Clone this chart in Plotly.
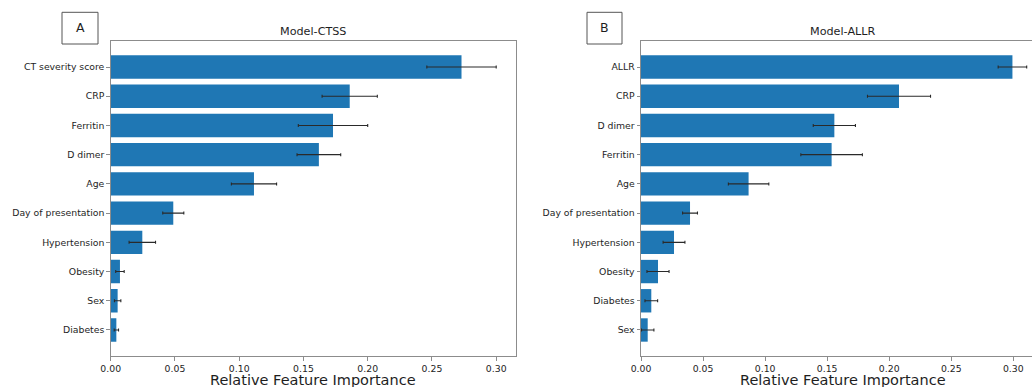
import plotly.graph_objects as go

# Panel A: Model-CTSS
feat_a = ["CT severity score", "CRP", "Ferritin", "D dimer", "Age",
          "Day of presentation", "Hypertension", "Obesity", "Sex", "Diabetes"]
imp_a = [0.273, 0.186, 0.173, 0.162, 0.1115, 0.0487, 0.0246, 0.0072, 0.0054, 0.0044]
err_a = [0.027, 0.0215, 0.027, 0.017, 0.0176, 0.0082, 0.0103, 0.0033, 0.0025, 0.0017]

# Panel B: Model-ALLR
feat_b = ["ALLR", "CRP", "D dimer", "Ferritin", "Age",
          "Day of presentation", "Hypertension", "Obesity", "Diabetes", "Sex"]
imp_b = [0.2993, 0.2079, 0.1558, 0.1536, 0.0867, 0.0395, 0.0266, 0.0137, 0.0083, 0.0054]
err_b = [0.0115, 0.0254, 0.017, 0.0248, 0.0163, 0.006, 0.0088, 0.0089, 0.0051, 0.005]

x_ticks = [0.0, 0.05, 0.10, 0.15, 0.20, 0.25, 0.30]
x_ticktext = ["0.00", "0.05", "0.10", "0.15", "0.20", "0.25", "0.30"]

BAR = "#1f77b4"
TXT = "#1e1e1e"
FRAME = "#8c8c8c"
FONT = "DejaVu Sans"

fig = go.Figure()
fig.add_trace(go.Bar(
    x=imp_a, y=feat_a, orientation="h", marker_color=BAR,
    marker_line_width=0,
    error_x=dict(type="data", array=err_a, color="#2a2a2a", thickness=1.1, width=1.5),
    xaxis="x", yaxis="y", showlegend=False))
fig.add_trace(go.Bar(
    x=imp_b, y=feat_b, orientation="h", marker_color=BAR,
    marker_line_width=0,
    error_x=dict(type="data", array=err_b, color="#2a2a2a", thickness=1.1, width=1.5),
    xaxis="x2", yaxis="y2", showlegend=False))

W, H = 1032, 387
top_px, bot_px = 41, 356
ydom = [(H - bot_px) / H, (H - top_px) / H]

common_x = dict(tickvals=x_ticks, ticktext=x_ticktext, ticks="outside", ticklen=3.5,
                tickwidth=1, tickcolor=FRAME, showline=True, linecolor=FRAME, linewidth=1,
                showgrid=False, zeroline=False, automargin=False,
                tickfont=dict(family=FONT, size=9.3, color=TXT))
common_y = dict(type="category", range=[9.89, -0.89], ticks="outside", ticklen=3.5,
                tickwidth=1, tickcolor=FRAME, showline=True, linecolor=FRAME, linewidth=1,
                showgrid=False, zeroline=False, automargin=False,
                tickfont=dict(family=FONT, size=9.3, color=TXT))

fig.update_layout(
    width=W, height=H, margin=dict(l=0, r=0, t=0, b=0, pad=0, autoexpand=False),
    plot_bgcolor="white", paper_bgcolor="white", bargap=0.2,
    font=dict(family=FONT, color=TXT),
    xaxis=dict(domain=[110.7 / W, 516 / W], range=[0, 0.3154], anchor="y",
               mirror=True, **common_x),
    yaxis=dict(domain=ydom, anchor="x", mirror=True,
               categoryorder="array", categoryarray=feat_a, **common_y),
    xaxis2=dict(domain=[641 / W, 1.0], range=[0, (W - 641) / 1241.0], anchor="y2",
                mirror=True, **common_x),
    yaxis2=dict(domain=ydom, anchor="x2", mirror=False,
                categoryorder="array", categoryarray=feat_b, **common_y),
)

# titles and axis labels
def ann(text, xpx, ypx, size):
    fig.add_annotation(text=text, x=xpx / W, y=(H - ypx) / H, xref="paper", yref="paper",
                       showarrow=False, xanchor="center", yanchor="middle",
                       font=dict(family=FONT, size=size, color=TXT))

ann("Model-CTSS", 313.3, 32, 11.2)
ann("Model-ALLR", 843, 32, 11.2)
ann("Relative Feature Importance", 313, 380, 14.5)
ann("Relative Feature Importance", 843, 380, 14.5)

# panel letter boxes
for letter, x0, x1 in [("A", 62, 98), ("B", 587, 622)]:
    fig.add_shape(type="rect", xref="paper", yref="paper",
                  x0=x0 / W, x1=x1 / W, y0=(H - 44) / H, y1=(H - 12.3) / H,
                  line=dict(color="#555555", width=1), fillcolor="white")
    ann(letter, (x0 + x1) / 2, 27.5, 12.5)

fig.write_html("out.html", config={"displayModeBar": False},
               post_script="document.body.style.margin='0';document.body.style.overflow='hidden';")
